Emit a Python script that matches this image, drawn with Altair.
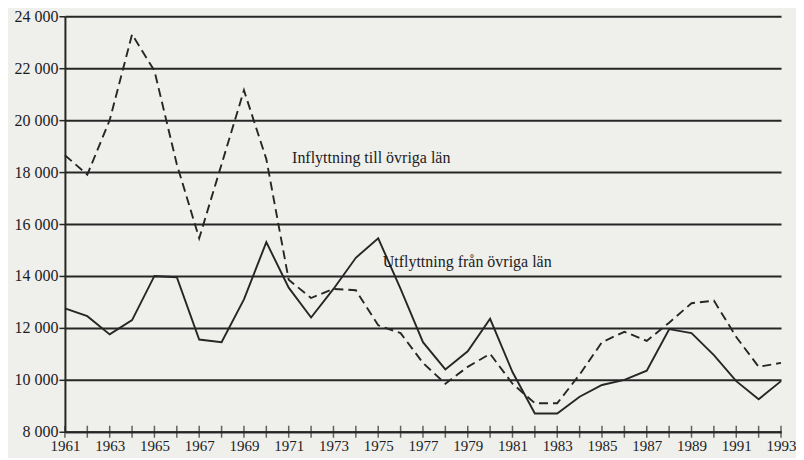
import altair as alt
import pandas as pd

years = list(range(1961, 1994))
inflyttning = [18650, 17900, 20000, 23300, 21900, 18300, 15450, 18300, 21150, 18500,
               13850, 13150, 13500, 13450, 12100, 11800, 10650, 9850, 10500, 11000,
               9850, 9100, 9100, 10200, 11450, 11850, 11500, 12200, 12950, 13050,
               11650, 10500, 10650]
utflyttning = [12750, 12450, 11750, 12300, 14000, 13950, 11550, 11450, 13100, 15300,
               13550, 12400, 13500, 14700, 15450, 13500, 11450, 10400, 11100, 12350,
               10300, 8700, 8700, 9350, 9800, 10000, 10350, 11950, 11800, 10950,
               9950, 9250, 9950]
y_ticks = [8000, 10000, 12000, 14000, 16000, 18000, 20000, 22000, 24000]
label_texts = ["Inflyttning till övriga län", "Utflyttning från övriga län"]
label_x = [1971.15, 1975.2]
label_y = [18550, 14550]

df = pd.DataFrame({"year": years, "infl": inflyttning, "utfl": utflyttning})
ann = pd.DataFrame({"text": label_texts, "x": label_x, "y": label_y})

INK = "#262626"
TXT = "#1c1c1c"
FONT = "Liberation Serif"

xscale = alt.Scale(domain=[1961, 1993], nice=False, zero=False)
yscale = alt.Scale(domain=[8000, 24000], nice=False, zero=False)

x_axis = alt.Axis(values=years, format="d",
                  labelExpr="datum.value % 2 == 1 ? datum.label : ''",
                  ticks=False, grid=False, domainColor=INK, domainWidth=2,
                  labelFont=FONT, labelFontSize=15, labelColor=TXT,
                  labelPadding=7, labelFlush=False, labelOverlap=False, title=None)
y_axis = alt.Axis(values=y_ticks,
                  labelExpr="replace(format(datum.value, ','), ',', ' ')",
                  grid=True, gridColor=INK, gridWidth=2, gridOpacity=1,
                  tickSize=6, tickColor=INK, tickWidth=1.5,
                  domainColor=INK, domainWidth=2,
                  labelFont=FONT, labelFontSize=16, labelColor=TXT,
                  labelPadding=1, labelFlush=False, labelOverlap=False, title=None)

base = alt.Chart(df)

grid_layer = base.mark_line(opacity=0).encode(
    x=alt.X("year:Q", scale=xscale, axis=x_axis),
    y=alt.Y("infl:Q", scale=yscale, axis=y_axis),
)

infl_line = base.mark_line(color=INK, strokeWidth=1.9, strokeDash=[9, 5]).encode(
    x=alt.X("year:Q", scale=xscale),
    y=alt.Y("infl:Q", scale=yscale),
)
utfl_line = base.mark_line(color=INK, strokeWidth=1.9).encode(
    x=alt.X("year:Q", scale=xscale),
    y=alt.Y("utfl:Q", scale=yscale),
)
ticks = base.mark_tick(orient="vertical", size=12, thickness=1.5, color=INK).encode(
    x=alt.X("year:Q", scale=xscale),
    y=alt.datum(8000),
)
labels = alt.Chart(ann).mark_text(align="left", baseline="middle", font=FONT,
                                  fontSize=16, color=TXT).encode(
    x=alt.X("x:Q", scale=xscale),
    y=alt.Y("y:Q", scale=yscale),
    text="text:N",
)

chart = alt.layer(grid_layer, infl_line, utfl_line, ticks, labels).properties(
    width=717, height=416,
    autosize=alt.AutoSizeParams(type="none"),
    padding={"left": 57, "top": 8, "right": 15, "bottom": 26},
    background="#efefec",
).configure_view(stroke=None)

chart.save("out.html", embed_options={"renderer": "svg", "actions": False})
